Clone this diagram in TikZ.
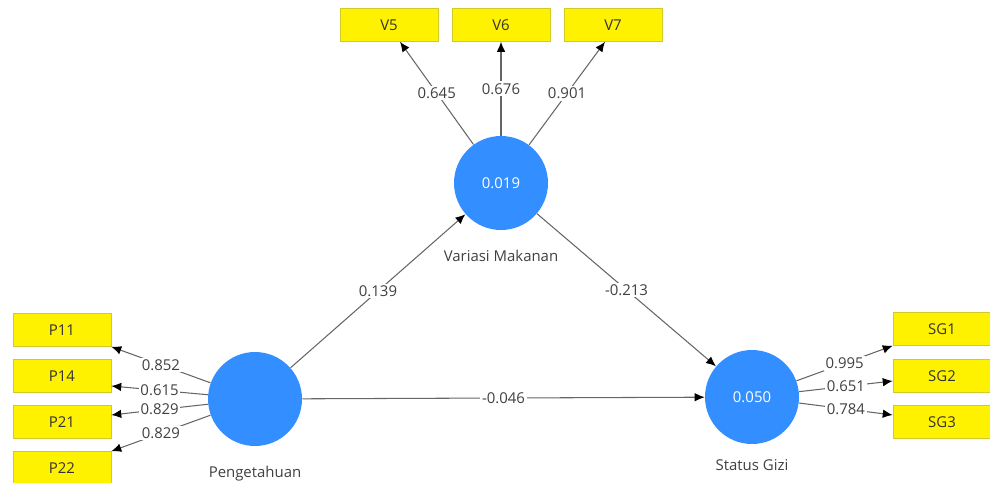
\documentclass[tikz,border=0pt]{standalone}
\usepackage{fontspec}
\setmainfont{Open Sans}
\usetikzlibrary{arrows.meta}

\begin{document}
\begin{tikzpicture}
  [x=0.02cm,y=-0.02cm,font=\fontsize{8.5}{10}\selectfont,
   latent/.style={circle,fill=blue!55!cyan!80!white,minimum size=1.88cm,inner sep=0pt,text=white},
   item/.style={rectangle,fill=yellow,draw=yellow!80!black,line width=0.3pt,
     minimum width=1.96cm,minimum height=0.66cm,inner sep=0pt,text=black!80},
   path/.style={draw=black!60,line width=0.6pt,-{Latex[length=0.2cm,width=0.17cm,black]}},
   coef/.style={fill=white,inner sep=1pt,text=black!75}]
  \useasboundingbox (0,0) rectangle (990,483);

  % latent variables
  \node[latent,label={[text=black!75,label distance=0.27cm]below:Pengetahuan}] (peng) at (255,399) {};
  \node[latent,label={[text=black!75,label distance=0.28cm]below:Variasi Makanan}] (var) at (501,183) {0.019};
  \node[latent,label={[text=black!75,label distance=0.18cm]below:Status Gizi}] (gizi) at (752,397) {0.050};

  % indicators
  \node[item] (p11) at (62,330) {P11};
  \node[item] (p14) at (62,376) {P14};
  \node[item] (p21) at (62,422) {P21};
  \node[item] (p22) at (62,468) {P22};
  \node[item] (v5) at (389,25) {V5};
  \node[item] (v6) at (501,25) {V6};
  \node[item] (v7) at (613,25) {V7};
  \node[item] (sg1) at (942,329) {SG1};
  \node[item] (sg2) at (942,376) {SG2};
  \node[item] (sg3) at (942,422) {SG3};

  % outer loadings
  \foreach \to/\dy/\val in {p11.south east/0/0.852,p14.east/-0.2/0.615,
      p21.east/0.14/0.829,p22.north east/0/0.829}
    \draw[path] (peng) -- ([yshift=\dy cm]\to) node[midway,coef] {\val};
  \foreach \to/\dx/\val in {v5.south/0.22/0.645,v6.south/0/0.676,v7.south/-0.16/0.901}
    \draw[path] (var) -- ([xshift=\dx cm]\to) node[midway,coef] {\val};
  \foreach \to/\dy/\val in {sg1.south west/0/0.995,sg2.west/-0.1/0.651,sg3.west/0.14/0.784}
    \draw[path] (gizi) -- ([yshift=\dy cm]\to) node[midway,coef] {\val};

  % path coefficients
  \foreach \from/\to/\val in {peng/var/0.139,var/gizi/-0.213,peng/gizi/-0.046}
    \draw[path] (\from) -- (\to) node[midway,coef] {\val};

\end{tikzpicture}
\end{document}
